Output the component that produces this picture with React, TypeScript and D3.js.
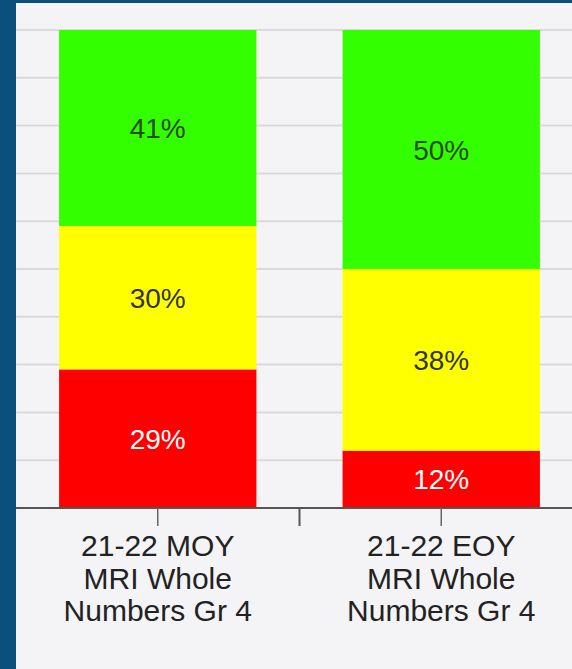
import { useEffect } from 'react'
import { scaleBand, scaleLinear } from 'd3'

const categories = ['21-22 MOY MRI Whole Numbers Gr 4', '21-22 EOY MRI Whole Numbers Gr 4']
const categoryLines = [
  ['21-22 MOY', 'MRI Whole', 'Numbers Gr 4'],
  ['21-22 EOY', 'MRI Whole', 'Numbers Gr 4'],
]
const redValues = [29, 12]
const yellowValues = [30, 38]
const greenValues = [41, 50]
const yTicks = [0, 10, 20, 30, 40, 50, 60, 70, 80, 90, 100]

const width = 572
const height = 669
const plot = { left: 16, right: 583, top: 30, bottom: 508 }

const segments = [
  { key: 'red', values: redValues, fill: '#ff0000', text: '#ffffff' },
  { key: 'yellow', values: yellowValues, fill: '#ffff00', text: '#333333' },
  { key: 'green', values: greenValues, fill: '#33ff00', text: '#2a4a1a' },
]

function App() {
  useEffect(() => {
    document.body.style.margin = '0'
  }, [])

  const xScale = scaleBand<string>()
    .domain(categories)
    .range([plot.left, plot.right])
    .paddingInner(0.304)
    .paddingOuter(0.152)

  const yScale = scaleLinear().domain([0, 100]).range([plot.bottom, plot.top])

  const step = xScale.step()

  return (
    <svg width={width} height={height} style={{ display: 'block' }}>
      <rect x={0} y={0} width={width} height={height} fill="#f4f3f6" />
      <rect x={0} y={0} width={16} height={height} fill="#0b4f7d" />
      <rect x={0} y={0} width={width} height={3} fill="#0b4f7d" />

      {yTicks.slice(1).map((tick) => (
        <line
          key={`grid-${tick}`}
          x1={plot.left}
          x2={width}
          y1={yScale(tick)}
          y2={yScale(tick)}
          stroke="#dadadd"
          strokeWidth={2}
        />
      ))}

      {categories.map((cat, i) => {
        const x = xScale(cat) ?? 0
        const bw = xScale.bandwidth()
        let acc = 0
        return (
          <g key={cat}>
            {segments.map((seg) => {
              const v = seg.values[i]
              const y0 = yScale(acc)
              const y1 = yScale(acc + v)
              acc += v
              const cy = (y0 + y1) / 2
              return (
                <g key={seg.key}>
                  <rect x={x} y={y1} width={bw} height={y0 - y1} fill={seg.fill} />
                  <text
                    x={x + bw / 2}
                    y={cy + 28 * 0.36}
                    textAnchor="middle"
                    fontFamily="'Liberation Sans', Arial, sans-serif"
                    fontSize={28}
                    fill={seg.text}
                  >
                    {`${v}%`}
                  </text>
                </g>
              )
            })}
          </g>
        )
      })}

      <line x1={plot.left} x2={width} y1={plot.bottom} y2={plot.bottom} stroke="#555" strokeWidth={2} />

      {categories.map((cat) => {
        const cx = (xScale(cat) ?? 0) + xScale.bandwidth() / 2
        return (
          <line key={`tick-${cat}`} x1={cx} x2={cx} y1={plot.bottom} y2={plot.bottom + 18} stroke="#666" strokeWidth={1.5} />
        )
      })}
      {categories.slice(1).map((cat) => {
        const bx = (xScale(cat) ?? 0) - (step - xScale.bandwidth()) / 2
        return (
          <line key={`sep-${cat}`} x1={bx} x2={bx} y1={plot.bottom} y2={plot.bottom + 18} stroke="#555" strokeWidth={2} />
        )
      })}

      {categories.map((cat, i) => {
        const cx = (xScale(cat) ?? 0) + xScale.bandwidth() / 2
        return (
          <text
            key={`label-${cat}`}
            textAnchor="middle"
            fontFamily="'Liberation Sans', Arial, sans-serif"
            fontSize={30}
            fill="#222"
          >
            {categoryLines[i].map((ln, j) => (
              <tspan key={ln} x={cx} y={556 + j * 32.5}>
                {ln}
              </tspan>
            ))}
          </text>
        )
      })}
    </svg>
  )
}

export default App
